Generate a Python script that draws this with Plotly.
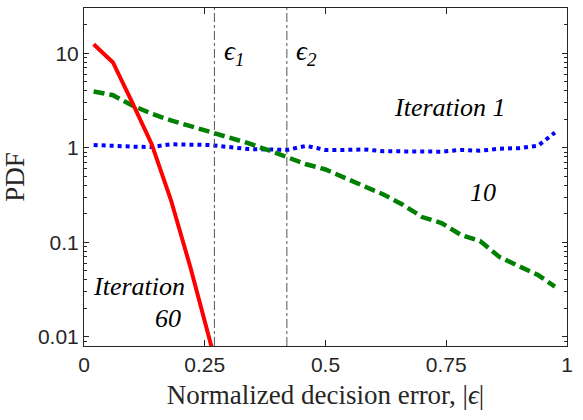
import plotly.graph_objects as go

# ---- data ----
x_bins = [0.02, 0.06, 0.10, 0.14, 0.18, 0.22, 0.26, 0.30, 0.34, 0.38, 0.42, 0.46, 0.50,
          0.54, 0.58, 0.62, 0.66, 0.70, 0.74, 0.78, 0.82, 0.86, 0.90, 0.94, 0.975]
pdf_iter1 = [1.07, 1.04, 1.03, 1.02, 1.09, 1.08, 1.07, 1.02, 0.97, 0.96, 0.95, 1.05, 0.95,
             0.95, 0.96, 0.92, 0.91, 0.90, 0.91, 0.95, 0.93, 0.98, 0.99, 1.05, 1.45]
pdf_iter10 = [3.95, 3.6, 2.8, 2.3, 1.95, 1.7, 1.45, 1.27, 1.12, 0.95, 0.80, 0.67, 0.59,
              0.48, 0.39, 0.32, 0.25, 0.185, 0.16, 0.12, 0.103, 0.07, 0.056, 0.045, 0.034]
x_iter60 = [0.02, 0.06, 0.10, 0.14, 0.18, 0.22, 0.27]
pdf_iter60 = [12.5, 8.0, 3.0, 1.1, 0.28, 0.055, 0.006]
eps_lines = [0.27, 0.42]
eps_labels = ["ϵ<sub>1</sub>", "ϵ<sub>2</sub>"]
x_ticks = [0, 0.25, 0.5, 0.75, 1]
x_ticktext = ["0", "0.25", "0.5", "0.75", "1"]
y_ticks = [0.01, 0.1, 1, 10]
y_ticktext = ["0.01", "0.1", "1", "10"]

minor_y = [m * 10 ** e for e in range(-3, 2) for m in range(2, 10)]

axis_color = "#262626"
fig = go.Figure()

fig.add_trace(go.Scatter(x=x_bins, y=pdf_iter1, mode="lines",
                         line=dict(color="#0000FF", width=4, dash="4px,4px")))
fig.add_trace(go.Scatter(x=x_bins, y=pdf_iter10, mode="lines",
                         line=dict(color="#008000", width=4.5, dash="11px,5px")))
fig.add_trace(go.Scatter(x=x_iter60, y=pdf_iter60, mode="lines",
                         line=dict(color="#FF0000", width=4)))

for xv in eps_lines:
    fig.add_shape(type="line", xref="x", yref="paper", x0=xv, x1=xv, y0=0, y1=1,
                  line=dict(color="#555555", width=1, dash="dashdot"))

serif = "Liberation Serif"
ann_font = dict(family=serif, size=26, color="black", style="italic")
for xv, lab in zip(eps_lines, eps_labels):
    fig.add_annotation(x=xv + 0.015, y=1.0, xref="x", yref="y", text=lab,
                       showarrow=False, xanchor="left", yanchor="middle",
                       font=dict(family=serif, size=27, color="black", style="italic"))

fig.add_annotation(x=0.758, y=0.43, xref="x", yref="y", text="Iteration 1",
                   showarrow=False, font=ann_font)
fig.add_annotation(x=0.827, y=-0.475, xref="x", yref="y", text="10",
                   showarrow=False, font=ann_font)
fig.add_annotation(x=0.113, y=-1.472, xref="x", yref="y", text="Iteration",
                   showarrow=False, font=ann_font)
fig.add_annotation(x=0.174, y=-1.81, xref="x", yref="y", text="60",
                   showarrow=False, font=ann_font)

fig.update_layout(
    width=583, height=420,
    margin=dict(l=84, r=16, t=8, b=74),
    paper_bgcolor="white", plot_bgcolor="white",
    showlegend=False,
    xaxis=dict(range=[0, 1], tickvals=x_ticks, ticktext=x_ticktext,
               ticks="inside", ticklen=6, tickcolor=axis_color, tickwidth=1,
               showline=True, linecolor=axis_color, linewidth=1, mirror="ticks",
               showgrid=False, zeroline=False,
               tickfont=dict(family="Liberation Sans, Arial", size=21, color=axis_color),
               title=dict(text="Normalized decision error, |<i>ϵ</i>|",
                          font=dict(family=serif, size=27, color=axis_color), standoff=9)),
    yaxis=dict(type="log", range=[-2.098, 1.48], tickvals=y_ticks, ticktext=y_ticktext,
               ticks="inside", ticklen=5, tickcolor=axis_color, tickwidth=1,
               minor=dict(ticks="inside", ticklen=3, tickvals=minor_y, tickcolor=axis_color,
                          showgrid=False),
               showline=True, linecolor=axis_color, linewidth=1, mirror="ticks",
               showgrid=False, zeroline=False,
               tickfont=dict(family="Liberation Sans, Arial", size=21, color=axis_color),
               title=dict(text="PDF", font=dict(family=serif, size=27, color=axis_color),
                          standoff=10)),
)

fig.write_html("out.html")
